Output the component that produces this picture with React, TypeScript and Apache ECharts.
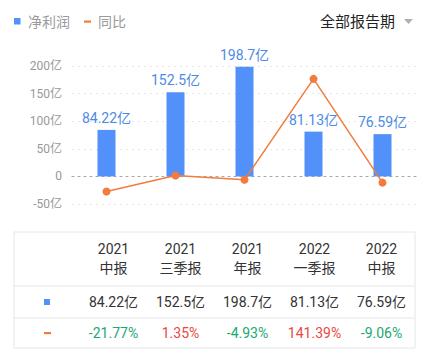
import React, { useEffect, useRef } from "react";
import * as echarts from "echarts";

const years = ["2021", "2021", "2021", "2022", "2022"];
const periods = ["中报", "三季报", "年报", "一季报", "中报"];
const profit = [84.22, 152.5, 198.7, 81.13, 76.59];
const profitLabels = ["84.22亿", "152.5亿", "198.7亿", "81.13亿", "76.59亿"];
const yoy = [-21.77, 1.35, -4.93, 141.39, -9.06];
const yoyLabels = ["-21.77%", "1.35%", "-4.93%", "141.39%", "-9.06%"];

const BLUE = "#5191F9";
const ORANGE = "#F27B3D";
const FONT = "Roboto, 'Noto Sans CJK SC', sans-serif";

export default function App() {
  const ref = useRef<HTMLDivElement>(null);
  useEffect(() => {
    document.body.style.margin = "0";
    const chart = echarts.init(ref.current!, undefined, { renderer: "svg" });
    const categories = years.map((y, i) => y + "\n" + periods[i]);

    const tLeft = 14, tRight = 415, firstCol = 80;
    const colW = (tRight - firstCol) / categories.length;
    const rows = [232, 286, 318, 348];
    const graphic: any[] = [];
    // legend
    graphic.push({ type: "rect", shape: { x: 14, y: 18, width: 6.5, height: 6.5 }, style: { fill: BLUE } });
    graphic.push({ type: "text", x: 28, y: 21.5, style: { text: "净利润", fill: "#9a9a9a", font: `14px ${FONT}`, verticalAlign: "middle" } });
    graphic.push({ type: "rect", shape: { x: 84, y: 20.5, width: 7, height: 2.2 }, style: { fill: ORANGE } });
    graphic.push({ type: "text", x: 98, y: 21.5, style: { text: "同比", fill: "#9a9a9a", font: `14px ${FONT}`, verticalAlign: "middle" } });
    graphic.push({ type: "text", x: 395, y: 21.5, style: { text: "全部报告期", fill: "#222", font: `15px ${FONT}`, align: "right", verticalAlign: "middle" } });
    graphic.push({ type: "polygon", shape: { points: [[404, 19], [413, 19], [408.5, 24]] }, style: { fill: "#b0b0b0" } });
    // table
    graphic.push({ type: "rect", shape: { x: tLeft, y: rows[0], width: tRight - tLeft, height: rows[3] - rows[0] }, style: { fill: "none", stroke: "#e6e6e6", lineWidth: 1 } });
    graphic.push({ type: "line", shape: { x1: tLeft, y1: rows[1], x2: tRight, y2: rows[1] }, style: { stroke: "#e6e6e6", lineWidth: 1 } });
    graphic.push({ type: "line", shape: { x1: tLeft, y1: rows[2], x2: tRight, y2: rows[2] }, style: { stroke: "#e6e6e6", lineWidth: 1 } });
    graphic.push({ type: "rect", shape: { x: 44, y: 299, width: 6, height: 6 }, style: { fill: BLUE } });
    graphic.push({ type: "rect", shape: { x: 44, y: 332, width: 7, height: 2.2 }, style: { fill: ORANGE } });
    categories.forEach((_, i) => {
      const cx = firstCol + colW * (i + 0.5);
      graphic.push({ type: "text", x: cx, y: 249, style: { text: years[i], fill: "#333", font: `14px ${FONT}`, align: "center", verticalAlign: "middle" } });
      graphic.push({ type: "text", x: cx, y: 268, style: { text: periods[i], fill: "#333", font: `14px ${FONT}`, align: "center", verticalAlign: "middle" } });
      graphic.push({ type: "text", x: cx, y: 302, style: { text: profitLabels[i], fill: "#333", font: `14px ${FONT}`, align: "center", verticalAlign: "middle" } });
      graphic.push({ type: "text", x: cx, y: 333, style: { text: yoyLabels[i], fill: yoy[i] >= 0 ? "#E8483F" : "#1BA872", font: `14px ${FONT}`, align: "center", verticalAlign: "middle" } });
    });

    chart.setOption({
      animation: false,
      textStyle: { fontFamily: FONT },
      grid: { left: 72, right: 8, top: 66, bottom: 156 },
      xAxis: {
        type: "category",
        data: categories,
        axisLine: { show: true, lineStyle: { color: "#a8a8a8", type: [2, 4], width: 1.2 } },
        axisTick: { show: false },
        axisLabel: { show: false },
      },
      yAxis: [
        {
          type: "value",
          min: -50,
          max: 200,
          interval: 50,
          axisLabel: { color: "#999", fontSize: 12, margin: 10, formatter: (v: number) => (v === 0 ? "0" : v + "亿") },
          splitLine: { lineStyle: { color: "#e6e6e6", type: [2, 4] } },
          axisLine: { show: false },
          axisTick: { show: false },
        },
        {
          type: "value",
          min: -40,
          max: 160,
          interval: 40,
          show: false,
          splitLine: { show: false },
        },
      ],
      series: [
        {
          name: "净利润",
          type: "bar",
          data: profit,
          barWidth: 18,
          itemStyle: { color: BLUE },
          label: {
            show: true,
            position: "top",
            distance: 5,
            color: "#4D8BE6",
            fontSize: 14,
            formatter: (p: any) => profitLabels[p.dataIndex],
          },
          z: 2,
        },
        {
          name: "同比",
          type: "line",
          yAxisIndex: 1,
          data: yoy,
          symbol: "circle",
          symbolSize: 8,
          lineStyle: { color: ORANGE, width: 1.5 },
          itemStyle: { color: ORANGE },
          z: 3,
        },
      ],
      graphic,
    });
    return () => chart.dispose();
  }, []);
  return <div ref={ref} style={{ width: 425, height: 360 }} />;
}
